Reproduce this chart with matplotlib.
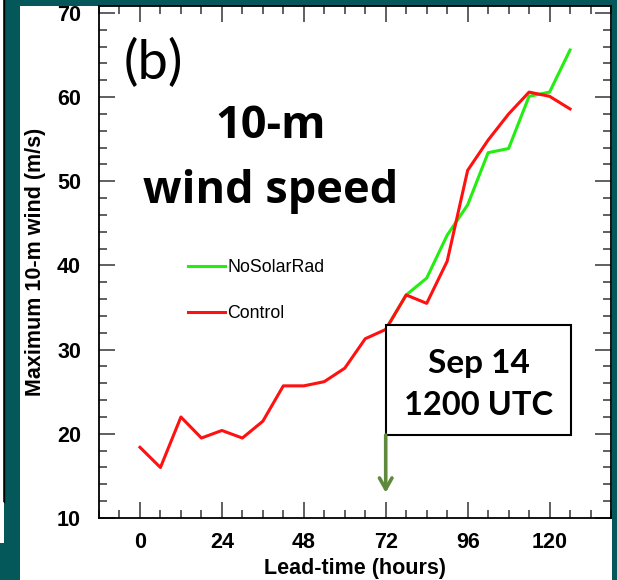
import matplotlib
matplotlib.use("Agg")
import matplotlib.pyplot as plt
from matplotlib.patches import Rectangle
from matplotlib.ticker import MultipleLocator

# lead time (hours) and maximum 10-m wind (m/s)
lead_control = [0, 6, 12, 18, 24, 30, 36, 42, 48, 54, 60, 66, 72,
                78, 84, 90, 96, 102, 108, 114, 120, 126]
wind_control = [18.4, 16.0, 22.0, 19.5, 20.4, 19.5, 21.5, 25.7, 25.7, 26.2, 27.8, 31.3, 32.4,
                36.5, 35.5, 40.5, 51.3, 54.9, 58.0, 60.6, 60.1, 58.6]

lead_nosolar = [72, 78, 84, 90, 96, 102, 108, 114, 120, 126]
wind_nosolar = [32.4, 36.5, 38.5, 43.6, 47.2, 53.4, 53.9, 60.1, 60.6, 65.6]

x_ticks = [0, 24, 48, 72, 96, 120]
y_ticks = [10, 20, 30, 40, 50, 60, 70]

teal = "#04585a"
arrow_green = "#5f8a3e"


def main():
    fig = plt.figure(figsize=(6.17, 5.8), dpi=100, facecolor=teal)

    # slide background: white panel plus the edge of the neighbouring panel
    fig.patches.append(Rectangle((20 / 617, 0), 592 / 617, 574 / 580,
                                 transform=fig.transFigure, facecolor="white",
                                 edgecolor="none", zorder=-10))
    fig.patches.append(Rectangle((0, 78 / 580), 3 / 617, 1,
                                 transform=fig.transFigure, facecolor="white",
                                 edgecolor="none", zorder=-10))
    fig.patches.append(Rectangle((0, 37 / 580), 4 / 617, 41 / 580,
                                 transform=fig.transFigure, facecolor="white",
                                 edgecolor="none", zorder=-10))
    fig.lines.append(plt.Line2D([3.5 / 617, 3.5 / 617], [78 / 580, 1],
                                transform=fig.transFigure, color="black", lw=1,
                                zorder=-9))

    ax = fig.add_axes([99 / 617, 62 / 580, 512 / 617, 512 / 580])
    ax.set_facecolor("white")

    ax.plot(lead_nosolar, wind_nosolar, color="#22ee11", lw=2.2, label="NoSolarRad")
    ax.plot(lead_control, wind_control, color="#ff1111", lw=2.2, label="Control")

    ax.set_xlim(-12, 138)
    ax.set_ylim(10, 70.83)
    ax.set_xticks(x_ticks)
    ax.set_yticks(y_ticks)
    ax.xaxis.set_minor_locator(MultipleLocator(6))
    ax.yaxis.set_minor_locator(MultipleLocator(2))
    ax.tick_params(which="both", direction="in", top=True, right=True,
                   color="#444444", width=1.2)
    ax.tick_params(which="major", length=11.5, labelsize=15.5)
    ax.tick_params(which="minor", length=6)
    ax.tick_params(axis="x", pad=10)
    ax.tick_params(axis="y", pad=13)
    for s in ax.spines.values():
        s.set_linewidth(1.3)
        s.set_color("black")

    for t in ax.get_xticklabels() + ax.get_yticklabels():
        t.set_family("Liberation Sans")
        t.set_fontweight("bold")
    ax.set_xlabel("Lead-time (hours)", labelpad=4, family="Liberation Sans",
                  fontsize=15.5, fontweight="bold")
    ax.set_ylabel("Maximum 10-m wind (m/s)", labelpad=8, family="Liberation Sans",
                  fontsize=15.5, fontweight="bold")

    ax.legend(loc="upper left", bbox_to_anchor=(0.174, 0.505), frameon=False,
              borderpad=0, borderaxespad=0, handlelength=2.1, handletextpad=0.1,
              labelspacing=1.6, prop=dict(family="Liberation Sans", size=12.8))

    ax.text(0.107, 0.889, "(b)", transform=ax.transAxes, ha="center", va="center",
            family="Lato", fontsize=39)
    ax.text(0.336, 0.742, "10-m", transform=ax.transAxes, ha="center", va="baseline",
            family="Open Sans", fontweight="bold", fontsize=32.5)
    ax.text(0.336, 0.615, "wind speed", transform=ax.transAxes, ha="center",
            va="baseline", family="Open Sans", fontweight="bold", fontsize=32.5)

    # initialisation time marker
    ax.add_patch(Rectangle((72, 19.85), 54.3, 13.05, facecolor="white",
                           edgecolor="black", lw=1.5, zorder=5))
    ax.text(99.2, 27.2, "Sep 14", ha="center", va="baseline", family="Lato",
            fontweight="bold", fontsize=24, zorder=6)
    ax.text(99.2, 22.2, "1200 UTC", ha="center", va="baseline", family="Lato",
            fontweight="bold", fontsize=23.5, zorder=6)
    ax.annotate("", xy=(72, 13.0), xytext=(72, 19.85),
                arrowprops=dict(arrowstyle="->,head_length=0.8,head_width=0.45",
                                color=arrow_green, lw=2.6, shrinkA=0, shrinkB=0),
                zorder=6)

    fig.savefig("out.png", dpi=100, facecolor=teal)


if __name__ == "__main__":
    main()
